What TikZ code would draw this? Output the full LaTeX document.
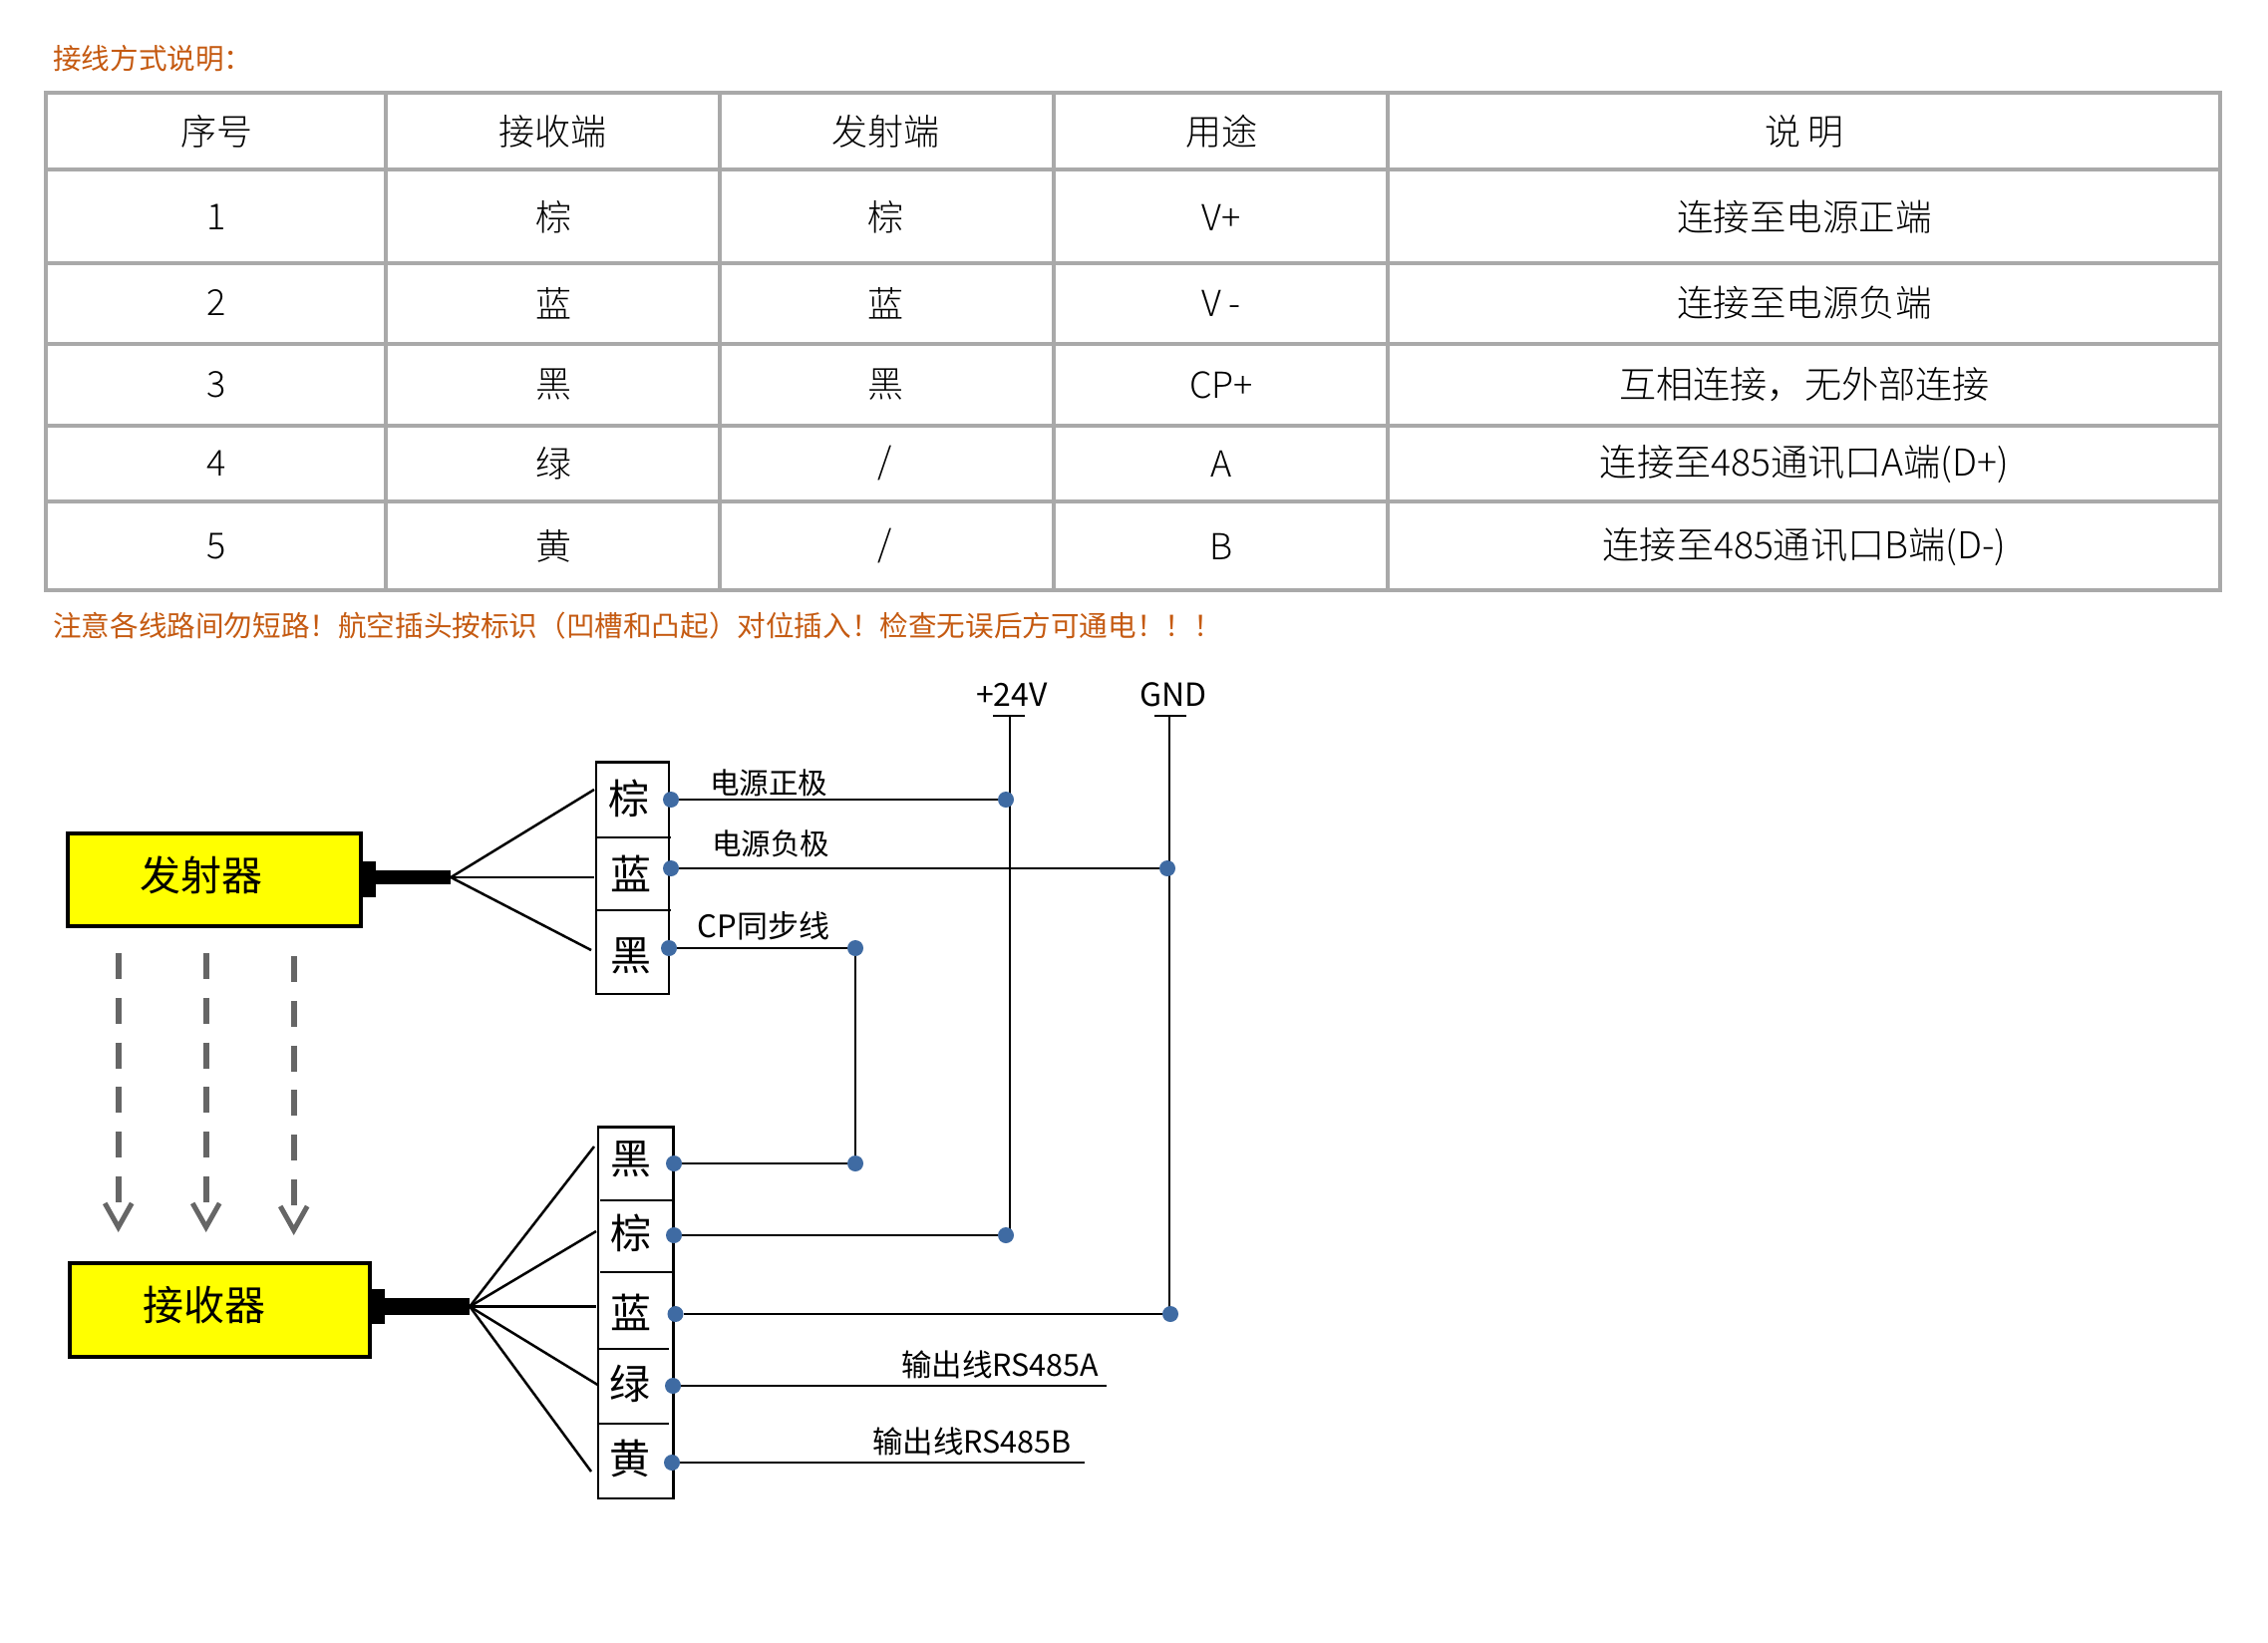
\documentclass[tikz,border=0pt]{standalone}
\usepackage{fontspec}
\usetikzlibrary{arrows.meta}
\setmainfont{Noto Sans CJK SC Light}
\newfontfamily\regfont{Noto Sans CJK SC}
\definecolor{gridgray}{HTML}{A9A9A9}
\definecolor{noteorange}{HTML}{C55A11}
\definecolor{dotblue}{HTML}{3F6BA3}
\definecolor{flowgray}{HTML}{666666}
\definecolor{devyellow}{RGB}{255,255,0}
\tikzset{
  cell/.style={font=\fontsize{36}{40}\selectfont, inner sep=0pt},
  cellwide/.style={font=\fontsize{36.5}{40}\selectfont},
  celllong/.style={font=\fontsize{37.2}{40}\selectfont},
  note/.style={font=\regfont\fontsize{28.6}{32}\selectfont, text=noteorange, anchor=west, inner sep=0pt},
  grid/.style={color=gridgray, line width=3.5pt},
  devbox/.style={rectangle, draw=black, fill=devyellow, line width=4pt, inner sep=0pt},
  devtext/.style={font=\regfont\fontsize{41}{44}\selectfont, inner sep=0pt},
  blackpart/.style={rectangle, fill=black, inner sep=0pt},
  termbox/.style={rectangle, draw=black, line width=2.5pt, inner sep=0pt},
  termtext/.style={font=\regfont\fontsize{41}{44}\selectfont, inner sep=0pt},
  wiretext/.style={font=\regfont\fontsize{29.5}{32}\selectfont, inner sep=0pt},
  railtext/.style={font=\regfont\fontsize{32}{36}\selectfont, inner sep=0pt},
  rstext/.style={font=\regfont\fontsize{30.5}{34}\selectfont, inner sep=0pt},
  dot/.style={circle, fill=dotblue, minimum size=16pt, inner sep=0pt},
  wire/.style={color=black, line width=2.5pt},
  flow/.style={color=flowgray, line width=6pt,
    dash pattern=on 26pt off 18.8pt on 26pt off 18.8pt on 26pt off 18.8pt on 26pt off 18.8pt on 26pt off 18.8pt on 26pt off 60pt,
    -{Straight Barb[length=24pt, width=27pt, line width=5pt]}}
}
\begin{document}
\begin{tikzpicture}[x=1pt, y=-1pt]
    \fill[white] (0, 0) rectangle (2275, 1647);
    \useasboundingbox (0, 0) rectangle (2275, 1647);

    % table
    \node[note] (title) at (53, 59) {接线方式说明：};
    \draw[grid] (46, 93) rectangle (2227, 592);
    \draw[grid] (46, 170) -- (2227, 170);
    \draw[grid] (46, 264) -- (2227, 264);
    \draw[grid] (46, 345) -- (2227, 345);
    \draw[grid] (46, 427) -- (2227, 427);
    \draw[grid] (46, 503) -- (2227, 503);
    \draw[grid] (387, 93) -- (387, 592);
    \draw[grid] (722, 93) -- (722, 592);
    \draw[grid] (1057, 93) -- (1057, 592);
    \draw[grid] (1392, 93) -- (1392, 592);
    \begin{scope}[every node/.style={cell}]
      \node (h1) at (217, 132) {序号};
      \node (h2) at (554, 132) {接收端};
      \node (h3) at (888, 132) {发射端};
      \node (h4) at (1225, 132) {用途};
      \node (h5) at (1810, 132) {说 明};
      \node (a1) at (217, 218) {1};
      \node (a2) at (555, 218) {棕};
      \node (a3) at (888, 218) {棕};
      \node (a4) at (1225, 218) {V+};
      \node[cellwide] (a5) at (1810, 218) {连接至电源正端};
      \node (b1) at (217, 304) {2};
      \node (b2) at (555, 304) {蓝};
      \node (b3) at (888, 304) {蓝};
      \node (b4) at (1225, 304) {V -};
      \node[cellwide] (b5) at (1810, 304) {连接至电源负端};
      \node (c1) at (217, 386) {3};
      \node (c2) at (555, 386) {黑};
      \node (c3) at (888, 386) {黑};
      \node (c4) at (1225, 386) {CP+};
      \node[celllong] (c5) at (1810, 386) {互相连接，无外部连接};
      \node (d1) at (217, 465) {4};
      \node (d2) at (555, 465) {绿};
      \node (d3) at (888, 465) {/};
      \node (d4) at (1225, 465) {A};
      \node[celllong] (d5) at (1810, 466) {连接至485通讯口A端(D+)};
      \node (e1) at (217, 548) {5};
      \node (e2) at (555, 548) {黄};
      \node (e3) at (888, 548) {/};
      \node (e4) at (1225, 548) {B};
      \node[celllong] (e5) at (1810, 549) {连接至485通讯口B端(D-)};
    \end{scope}
    \node[note] (warn) at (53, 628) {注意各线路间勿短路！航空插头按标识（凹槽和凸起）对位插入！检查无误后方可通电！！！};

    % emitter and receiver
    \node[blackpart, minimum width=13pt, minimum height=36pt] (txplug) at (370.5, 882) {};
    \node[blackpart, minimum width=75pt, minimum height=14pt] (txcable) at (414.5, 880) {};
    \node[devbox, minimum width=294pt, minimum height=93pt] (tx) at (215, 882.5) {};
    \node[devtext] (txtext) at (202, 878) {发射器};
    \node[blackpart, minimum width=14pt, minimum height=35pt] (rxplug) at (379, 1310.5) {};
    \node[blackpart, minimum width=85pt, minimum height=17pt] (rxcable) at (428.5, 1310.5) {};
    \node[devbox, minimum width=301pt, minimum height=94pt] (rx) at (220.75, 1314) {};
    \node[devtext] (rxtext) at (205, 1309) {接收器};

    % flow arrows between them
    \coordinate (f1a) at (118.7, 956);
    \coordinate (f1b) at (118.7, 1236);
    \coordinate (f2a) at (206.7, 956);
    \coordinate (f2b) at (206.7, 1236);
    \coordinate (f3a) at (294.7, 959);
    \coordinate (f3b) at (294.7, 1239);
    \draw[flow] (f1a) -- (f1b);
    \draw[flow] (f2a) -- (f2b);
    \draw[flow] (f3a) -- (f3b);

    % terminal blocks
    \node[termbox, minimum width=73pt, minimum height=232.5pt] (topblock) at (634.5, 880.5) {};
    \draw[wire] (597, 840) -- (672.5, 840);
    \draw[wire] (597, 913) -- (672.5, 913);
    \node[termtext] (t1) at (631, 801) {棕};
    \node[termtext] (t2) at (633, 876) {蓝};
    \node[termtext] (t3) at (633, 959) {黑};
    \node[termbox, minimum width=75.5pt, minimum height=372.5pt] (lowblock) at (637.5, 1316.5) {};
    \draw[wire] (602, 1204) -- (676.5, 1204);
    \draw[wire] (602, 1276) -- (676.5, 1276);
    \draw[wire] (598.5, 1353) -- (671, 1353);
    \draw[wire] (598.5, 1428) -- (671, 1428);
    \node[termtext] (r1) at (633, 1163) {黑};
    \node[termtext] (r2) at (633, 1237) {棕};
    \node[termtext] (r3) at (633, 1316) {蓝};
    \node[termtext] (r4) at (632, 1388) {绿};
    \node[termtext] (r5) at (632, 1463) {黄};

    % fan of wires
    \coordinate (tf1) at (596, 792);
    \coordinate (tf2) at (596, 880);
    \coordinate (tf3) at (593, 953);
    \coordinate (rf1) at (596, 1150);
    \coordinate (rf2) at (598, 1235);
    \coordinate (rf3) at (598, 1310.5);
    \coordinate (rf4) at (599.5, 1389);
    \coordinate (rf5) at (593, 1476);
    \draw[wire] (txcable.east) -- (tf1);
    \draw[wire] (txcable.east) -- (tf2);
    \draw[wire] (txcable.east) -- (tf3);
    \draw[wire] (rxcable.east) -- (rf1);
    \draw[wire] (rxcable.east) -- (rf2);
    \draw[wire] (rxcable.east) -- (rf3);
    \draw[wire] (rxcable.east) -- (rf4);
    \draw[wire] (rxcable.east) -- (rf5);

    % supply rails
    \coordinate (vcctop) at (1013, 718);
    \coordinate (vccleft) at (996, 718);
    \coordinate (vccright) at (1028, 718);
    \coordinate (vccend) at (1013, 1237);
    \coordinate (gndtop) at (1173, 718);
    \coordinate (gndleft) at (1158, 718);
    \coordinate (gndright) at (1190, 718);
    \coordinate (gndend) at (1173, 1316);
    \draw[wire] (vccleft) -- (vccright);
    \draw[wire] (vcctop) -- (vccend);
    \draw[wire] (gndleft) -- (gndright);
    \draw[wire] (gndtop) -- (gndend);
    \node[railtext] (vcc) at (1015, 697) {+24V};
    \node[railtext] (gnd) at (1177, 697) {GND};

    % dots
    \node[dot] (p1) at (673, 802) {};
    \node[dot] (p2) at (673, 871) {};
    \node[dot] (p3) at (671, 951) {};
    \node[dot] (q1) at (1009, 802) {};
    \node[dot] (q2) at (1171, 871) {};
    \node[dot] (q3) at (858, 951) {};
    \node[dot] (s1) at (676, 1167) {};
    \node[dot] (s2) at (676, 1239) {};
    \node[dot] (s3) at (677.5, 1318) {};
    \node[dot] (s4) at (675, 1390) {};
    \node[dot] (s5) at (674, 1467) {};
    \node[dot] (u1) at (858, 1167) {};
    \node[dot] (u2) at (1009, 1239) {};
    \node[dot] (u3) at (1174, 1318) {};
    \coordinate (u4) at (1110, 1390);
    \coordinate (u5) at (1088, 1467);

    \draw[wire] (p1) -- (q1);
    \draw[wire] (p2) -- (q2);
    \draw[wire] (p3) -- (q3);
    \draw[wire] (q3) -- (u1);
    \draw[wire] (s1) -- (u1);
    \draw[wire] (s2) -- (u2);
    \draw[wire] (s3) -- (u3);
    \draw[wire] (s4) -- (u4);
    \draw[wire] (s5) -- (u5);

    \node[wiretext] (l1) at (771, 785) {电源正极};
    \node[wiretext] (l2) at (773, 846) {电源负极};
    \node[wiretext, font=\regfont\fontsize{31}{34}\selectfont] (l3) at (766, 929) {CP同步线};
    \node[rstext] (l4) at (1003, 1369) {输出线RS485A};
    \node[rstext] (l5) at (975, 1446) {输出线RS485B};
\end{tikzpicture}
\end{document}
